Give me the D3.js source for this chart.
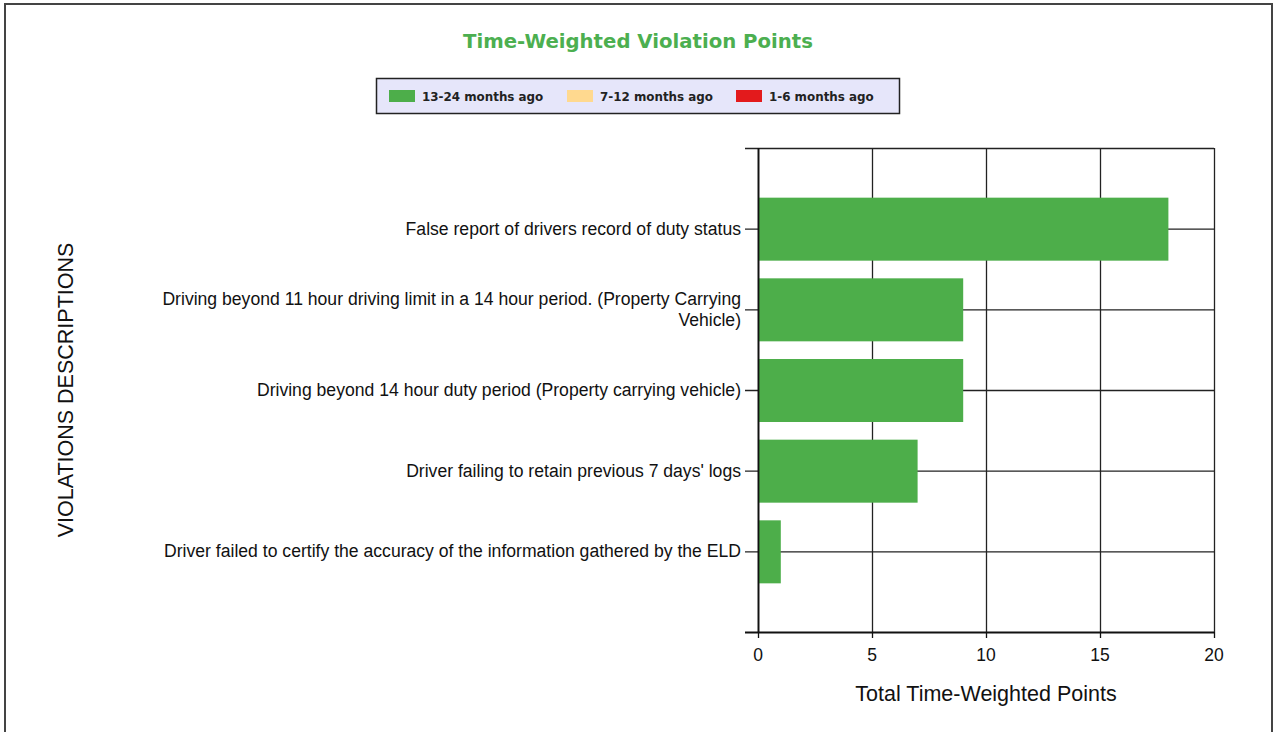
<!DOCTYPE html>
<html><head><meta charset="utf-8">
<script src="https://cdn.jsdelivr.net/npm/d3@7"></script>
<style>body{margin:0;background:#fff;overflow:hidden}</style>
</head><body>
<svg id="chart" width="1274" height="732"></svg>
<script>
const categories = [
  ["False report of drivers record of duty status"],
  ["Driving beyond 11 hour driving limit in a 14 hour period. (Property Carrying", "Vehicle)"],
  ["Driving beyond 14 hour duty period (Property carrying vehicle)"],
  ["Driver failing to retain previous 7 days' logs"],
  ["Driver failed to certify the accuracy of the information gathered by the ELD"]
];
const values13to24 = [18, 9, 9, 7, 1];
const values7to12 = [0, 0, 0, 0, 0];
const values1to6 = [0, 0, 0, 0, 0];
const xTicks = [0, 5, 10, 15, 20];
const seriesNames = ["13-24 months ago", "7-12 months ago", "1-6 months ago"];
const seriesColors = ["#4DAE4A", "#FFD98F", "#E31A1C"];
const titleText = "Time-Weighted Violation Points";
const xTitle = "Total Time-Weighted Points";
const yTitle = "VIOLATIONS DESCRIPTIONS";

const svg = d3.select("#chart");
svg.append("rect").attr("x",5).attr("y",4).attr("width",1267).attr("height",760)
  .attr("fill","#fff").attr("stroke","#444").attr("stroke-width",2);

svg.append("text").attr("x",638).attr("y",48).attr("text-anchor","middle")
  .attr("font-family","DejaVu Sans").attr("font-weight","bold").attr("font-size",19.7)
  .attr("fill","#4CAF50").text(titleText);

// legend
const lg = svg.append("g");
lg.append("rect").attr("x",376.5).attr("y",78.5).attr("width",523).attr("height",35)
  .attr("fill","#E6E6FA").attr("stroke","#222").attr("stroke-width",1.5);
const legX = [389, 567, 736];
seriesNames.forEach((n,i)=>{
  lg.append("rect").attr("x",legX[i]).attr("y",90).attr("width",26).attr("height",12).attr("fill",seriesColors[i]);
  lg.append("text").attr("x",legX[i]+33).attr("y",101).attr("font-family","DejaVu Sans")
    .attr("font-weight","bold").attr("font-size",11.9).attr("fill","#222").text(n);
});

const L=758, R=1214, T=148, B=632;
const x = d3.scaleLinear().domain([0,20]).range([L,R]);
const y = d3.scalePoint().domain(d3.range(categories.length)).range([T,B]).padding(1);
const barH = 63;

const g = svg.append("g");
g.selectAll(".vg").data(xTicks).join("line")
  .attr("x1",d=>x(d)+0.5).attr("x2",d=>x(d)+0.5).attr("y1",T).attr("y2",B)
  .attr("stroke","#222").attr("stroke-width",1.3);
g.selectAll(".hg").data(d3.range(categories.length)).join("line")
  .attr("x1",L-13).attr("x2",R).attr("y1",d=>y(d)+0.5).attr("y2",d=>y(d)+0.5)
  .attr("stroke","#222").attr("stroke-width",1.3);
g.append("line").attr("x1",L-13).attr("x2",R).attr("y1",T+0.5).attr("y2",T+0.5).attr("stroke","#222").attr("stroke-width",1.3);

const stacks = [values13to24, values7to12, values1to6];
categories.forEach((c,i)=>{
  let acc = 0;
  stacks.forEach((s,k)=>{
    if (s[i] > 0) {
      g.append("rect").attr("x",x(acc)).attr("y",y(i)-barH/2+0.5)
        .attr("width",x(acc+s[i])-x(acc)).attr("height",barH).attr("fill",seriesColors[k]);
    }
    acc += s[i];
  });
});

g.append("line").attr("x1",L+0.5).attr("x2",L+0.5).attr("y1",T).attr("y2",B).attr("stroke","#111").attr("stroke-width",1.8);
g.append("line").attr("x1",L-13).attr("x2",R).attr("y1",B+0.5).attr("y2",B+0.5).attr("stroke","#111").attr("stroke-width",1.8);
g.selectAll(".xt").data(xTicks).join("line")
  .attr("x1",d=>x(d)+0.5).attr("x2",d=>x(d)+0.5).attr("y1",B).attr("y2",B+6).attr("stroke","#111").attr("stroke-width",1.3);

g.selectAll(".xl").data(xTicks).join("text")
  .attr("x",d=>x(d)).attr("y",661).attr("text-anchor","middle")
  .attr("font-family","Liberation Sans, Arial").attr("font-size",17.5).attr("fill","#111").text(d=>d);

categories.forEach((lines,i)=>{
  const t = g.append("text").attr("text-anchor","end").attr("font-family","Liberation Sans, Arial")
    .attr("font-size",17.6).attr("fill","#111");
  const n = lines.length, lh = 21;
  lines.forEach((ln,j)=>{
    t.append("tspan").attr("x",741).attr("y",y(i)+6+(j-(n-1)/2)*lh).text(ln);
  });
});

svg.append("text").attr("x",986).attr("y",701).attr("text-anchor","middle")
  .attr("font-family","Liberation Sans, Arial").attr("font-size",21.5).attr("fill","#111").text(xTitle);
svg.append("text").attr("transform","translate(73,390) rotate(-90)").attr("text-anchor","middle")
  .attr("font-family","Liberation Sans, Arial").attr("font-size",21.5).attr("fill","#111").text(yTitle);
</script>
</body></html>
